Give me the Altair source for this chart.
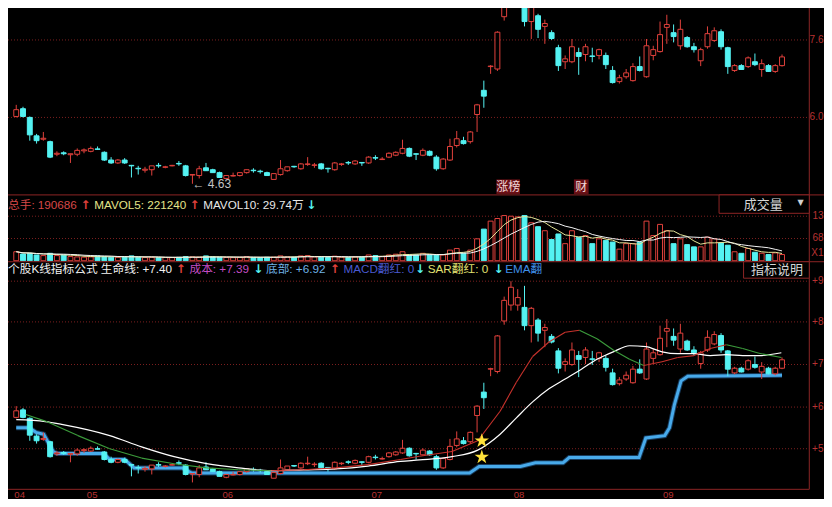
import altair as alt
import pandas as pd
import numpy as np

# ---------------- data ----------------
opens = [6.02,6.18,6.00,5.62,5.55,5.50,5.24,5.27,5.23,5.24,
         5.31,5.30,5.35,5.28,5.12,5.06,5.12,5.01,4.95,4.91,
         4.92,5.01,4.97,5.00,5.05,5.00,4.81,4.80,4.96,4.92,
         4.86,4.74,4.79,4.80,4.86,4.91,4.89,4.86,4.72,4.82,
         4.90,4.99,4.94,5.03,5.01,5.04,4.95,4.92,5.03,5.07,
         5.04,5.07,5.06,5.17,5.13,5.18,5.22,5.26,5.36,5.25,
         5.22,5.30,5.18,4.94,5.12,5.42,5.52,5.50,6.06,6.56,
         7.05,7.00,8.08,8.42,8.42,8.37,7.98,8.10,7.88,7.75,
         7.44,7.15,7.15,7.34,7.30,7.27,7.28,7.28,6.97,6.74,
         6.84,6.76,7.05,6.84,7.28,7.36,7.86,7.75,7.48,7.65,
         7.46,7.17,7.46,7.59,7.77,7.44,6.97,7.07,7.05,7.15,
         6.99,7.07,6.95,7.07]
highs = [6.26,6.22,6.02,5.66,5.70,5.52,5.30,5.30,5.25,5.36,
         5.36,5.40,5.40,5.30,5.18,5.14,5.16,5.02,5.00,4.98,
         5.00,5.06,5.00,5.02,5.10,5.02,4.83,5.00,5.06,4.94,
         4.88,4.80,4.86,4.86,4.92,4.95,4.92,4.88,4.84,5.12,
         4.98,5.00,5.06,5.18,5.06,5.06,4.96,5.08,5.06,5.10,
         5.12,5.08,5.20,5.22,5.18,5.28,5.30,5.54,5.38,5.26,
         5.36,5.32,5.22,5.16,5.56,5.72,5.60,5.72,6.28,6.76,
         7.08,7.78,8.60,8.93,8.76,8.83,8.38,8.14,8.02,7.80,
         7.50,7.28,7.62,7.44,7.52,7.44,7.42,7.34,7.06,6.88,
         7.00,7.12,7.26,7.62,7.48,7.98,8.12,7.92,8.02,7.68,
         7.54,7.44,7.88,7.86,7.82,7.46,7.10,7.10,7.26,7.32,
         7.20,7.10,7.10,7.30]
lows = [6.00,6.00,5.52,5.46,5.52,5.16,5.20,5.22,5.06,5.20,
        5.26,5.28,5.33,5.10,5.04,5.04,5.04,4.76,4.82,4.86,
        4.80,4.96,4.95,4.99,5.00,4.78,4.63,4.74,4.90,4.86,
        4.76,4.72,4.78,4.78,4.84,4.86,4.84,4.80,4.72,4.80,
        4.88,4.96,4.92,5.00,4.96,4.92,4.86,4.90,5.00,5.02,
        5.02,5.00,5.04,5.12,5.12,5.16,5.20,5.24,5.18,5.12,
        5.20,5.20,4.90,4.92,5.10,5.38,5.44,5.46,5.70,6.20,
        6.90,6.96,8.00,8.30,8.30,7.88,7.62,7.64,7.52,7.60,
        6.96,7.00,7.12,6.88,7.16,7.14,7.20,7.00,6.70,6.70,
        6.80,6.74,6.95,6.82,7.18,7.34,7.52,7.55,7.40,7.44,
        7.34,7.06,7.42,7.56,7.40,6.90,6.94,6.98,7.02,7.06,
        6.84,6.94,6.92,7.05]
closes = [6.16,6.02,5.64,5.52,5.57,5.18,5.26,5.25,5.25,5.32,
          5.33,5.36,5.34,5.12,5.06,5.12,5.06,5.00,4.94,4.93,
          5.00,5.00,4.98,5.01,5.04,4.80,4.82,4.94,4.90,4.86,
          4.76,4.80,4.80,4.86,4.92,4.90,4.88,4.80,4.84,4.94,
          4.98,4.98,5.04,5.04,5.02,4.94,4.94,5.06,5.04,5.06,
          5.10,5.06,5.18,5.16,5.14,5.26,5.28,5.36,5.20,5.24,
          5.32,5.22,4.94,5.14,5.40,5.56,5.46,5.70,6.26,6.44,
          7.06,7.76,8.52,8.80,8.58,7.98,8.35,7.82,7.94,7.63,
          7.07,7.21,7.46,7.26,7.46,7.26,7.40,7.09,6.72,6.82,
          6.92,7.05,6.97,7.48,7.40,7.71,7.92,7.67,7.82,7.46,
          7.40,7.40,7.73,7.79,7.46,7.05,7.07,6.99,7.23,7.09,
          7.11,6.95,7.07,7.25]
volumes = [276000,207000,227000,177000,158000,227000,158000,177000,128000,118000,
           110000,118000,148000,128000,110000,105000,118000,148000,110000,98000,
           105000,95000,100000,98000,105000,128000,118000,110000,148000,118000,
           110000,100000,95000,105000,128000,100000,95000,105000,110000,148000,
           118000,105000,148000,158000,118000,110000,100000,140000,110000,105000,
           118000,110000,177000,158000,128000,177000,200000,276000,177000,177000,
           227000,177000,177000,177000,325000,375000,227000,325000,670000,966000,
           1210000,1290000,1380000,1360000,1340000,1380000,1160000,1040000,917000,650000,
           818000,522000,917000,720000,769000,522000,670000,621000,571000,355000,
           522000,522000,571000,1210000,769000,1110000,917000,522000,670000,493000,
           424000,424000,720000,670000,542000,475000,275000,227000,375000,260000,
           230000,190000,240000,190686]

# indicator lines (sampled along the candle index axis)
life_x = [1.0,5.3,7.7,14.8,19.5,24.3,29.1,33.8,38.6,43.4,48.1,52.9,57.7,60.5,65.3,69.1,72.4,
          74.8,77.2,79.6,82.0,84.4,86.7,89.1,91.5,93.9,96.3,98.6,101.0,103.4,105.8,108.2,110.6,113.9]
life_v = [5.97,5.93,5.87,5.63,5.39,5.18,5.03,4.94,4.88,4.90,4.92,4.98,5.08,5.11,5.18,5.32,5.66,
          6.01,6.35,6.63,6.84,7.05,7.26,7.42,7.55,7.53,7.42,7.38,7.38,7.34,7.36,7.34,7.34,7.40]
cost_x = [2.4,5.3,10.1,14.8,19.5,24.3,29.1,33.8,38.6,43.4,48.1,52.9,57.7,60.5,65.3,69.1,72.4,
          74.8,77.2,79.6,82.0,84.1,86.7,89.1,91.5,93.6,96.3,98.6,101.0,103.4,105.8,108.2,110.6,113.9]
cost_v = [6.08,5.94,5.63,5.35,5.15,5.03,4.94,4.90,4.88,4.90,4.94,5.01,5.12,5.19,5.29,5.52,6.15,
          6.77,7.32,7.63,7.84,7.88,7.70,7.46,7.26,7.13,7.21,7.30,7.34,7.49,7.57,7.49,7.39,7.30]
base_x = [1.0,2.9,3.9,5.05,6.5,7.0,13.9,14.8,17.0,18.4,25.5,26.9,67.9,69.3,75.4,77.6,81.7,82.6,
          92.9,93.9,96.7,97.4,98.1,99.1,100.1,114.0]
base_v = [5.80,5.80,5.70,5.66,5.28,5.25,5.25,5.12,5.12,4.94,4.94,4.83,4.83,4.97,4.97,5.05,5.05,5.16,
          5.16,5.58,5.63,5.80,6.28,6.80,6.90,6.92]
star_x = [69.7, 69.7]
star_v = [5.52, 5.17]

month_labels = ["04", "05", "06", "07", "08", "09"]
month_pos = [1.5, 12.2, 32.2, 54.2, 75.2, 97.2]

top_ticks = [7.6, 6.0]
top_tick_labels = ["7.6", "6.0"]
vol_ticks = [1360000, 680000]
vol_tick_labels = ["13", "68"]
ind_ticks = [8.93, 8.06, 7.15, 6.24, 5.35]
ind_tick_labels = ["+9", "+8", "+7", "+6", "+5"]

# ---------------- layout ----------------
W, H = 816, 491
SX, SY = W / 832.0, H / 507.0
def px(x): return x * SX
def py(y): return y * SY

RED = "#e0413c"
CYAN = "#54f2f2"
GRID = "#7c1f1f"
FRAME = "#8c2525"
AXTXT = "#b83232"
FONT = "Liberation Sans, Arial, Noto Sans CJK SC, sans-serif"
BOTTOM = 497

n = len(opens)
df = pd.DataFrame(dict(i=list(range(1, n + 1)), o=opens, h=highs, l=lows, c=closes, v=volumes))
up = df.c >= df.o
df["stroke"] = np.where(up, RED, CYAN)
df["fill"] = np.where(up, "#000000", CYAN)

xs = alt.Scale(domain=[1, n], range=[px(3.3), px(794.3)], nice=False, zero=False)
def X(f):
    return alt.X(f, type="quantitative", scale=xs, axis=None)
def ysc(dom, rng):
    return alt.Scale(domain=dom, range=[py(rng[0]), py(rng[1])], nice=False, zero=False)

top_s = ysc([6.0, 7.6], [113, 33])
vol_s = ysc([0, 1360000], [261, 215])
ind_s = ysc([5.0, 9.0], [472.0, 278.7])

one = pd.DataFrame({"a": [0]})
layers = []

def hline(y, x0=0, x1=W, color=FRAME, dash=None):
    kw = dict(color=color, strokeWidth=1)
    if dash:
        kw["strokeDash"] = dash
    return alt.Chart(one).mark_rule(**kw).encode(
        x=alt.value(x0), x2=alt.value(x1), y=alt.value(y))

def grid(ticks, scale):
    g = pd.DataFrame({"t": ticks})
    return alt.Chart(g).mark_rule(color=GRID, strokeWidth=1, strokeDash=[1, 2]).encode(
        y=alt.Y("t:Q", scale=scale, axis=None), x=alt.value(0), x2=alt.value(px(817)))

layers += [grid(top_ticks, top_s), grid(vol_ticks, vol_s), grid(ind_ticks, ind_s)]

def candles(scale):
    base = alt.Chart(df)
    wick = base.mark_rule(strokeWidth=1).encode(
        x=X("i"), y=alt.Y("l:Q", scale=scale, axis=None), y2="h:Q",
        color=alt.Color("stroke:N", scale=None))
    body = base.mark_bar(size=px(5), strokeWidth=1).encode(
        x=X("i"), y=alt.Y("o:Q", scale=scale, axis=None), y2="c:Q",
        fill=alt.Fill("fill:N", scale=None), stroke=alt.Stroke("stroke:N", scale=None))
    return [wick, body]

# top panel
layers += candles(top_s)
low_df = pd.DataFrame({"i": [27], "p": [4.63], "t": ["\u2190 4.63"]})
layers.append(alt.Chart(low_df).mark_text(align="left", baseline="middle", dx=0, fontSize=12,
                                          font=FONT, color="#c4c4c4").encode(
    x=X("i"), y=alt.Y("p:Q", scale=top_s, axis=None), text="t:N"))

# event markers
for (x0, x1, t) in [(498, 522, "涨榜"), (577, 592, "财")]:
    layers.append(alt.Chart(one).mark_rect(color="#6a1016").encode(
        x=alt.value(px(x0)), x2=alt.value(px(x1)), y=alt.value(py(177)), y2=alt.value(py(192))))
    layers.append(alt.Chart(one).mark_text(text=t, fontSize=12, font=FONT, color="#f2d6d6",
                                           align="center", baseline="middle").encode(
        x=alt.value(px((x0 + x1) / 2)), y=alt.value(py(185))))

# volume panel
vb = alt.Chart(df).mark_bar(size=px(5), strokeWidth=1).encode(
    x=X("i"), y=alt.Y("v:Q", scale=vol_s, axis=None), y2=alt.datum(0),
    fill=alt.Fill("fill:N", scale=None), stroke=alt.Stroke("stroke:N", scale=None))
layers.append(vb)
ma = alt.Chart(df).transform_window(
    ma5="mean(v)", frame=[-4, 0], sort=[alt.SortField("i")]).transform_window(
    ma10="mean(v)", frame=[-9, 0], sort=[alt.SortField("i")])
layers.append(ma.mark_line(color="#e6e69a", strokeWidth=1).encode(
    x=X("i"), y=alt.Y("ma5:Q", scale=vol_s, axis=None)))
layers.append(ma.mark_line(color="#f4f4f4", strokeWidth=1).encode(
    x=X("i"), y=alt.Y("ma10:Q", scale=vol_s, axis=None)))

# indicator panel
base_df = pd.DataFrame({"x": base_x, "v": base_v})
layers.append(alt.Chart(base_df).mark_line(color="#173c5e", strokeWidth=5).encode(
    x=X("x"), y=alt.Y("v:Q", scale=ind_s, axis=None)))
layers.append(alt.Chart(base_df).mark_line(color="#48aaea", strokeWidth=3).encode(
    x=X("x"), y=alt.Y("v:Q", scale=ind_s, axis=None)))
layers += candles(ind_s)
life_df = pd.DataFrame({"x": life_x, "v": life_v})
layers.append(alt.Chart(life_df).mark_line(color="#ffffff", strokeWidth=1.2, interpolate="monotone").encode(
    x=X("x"), y=alt.Y("v:Q", scale=ind_s, axis=None)))
seg = pd.DataFrame({"x0": cost_x[:-1], "x1": cost_x[1:], "y0": cost_v[:-1], "y1": cost_v[1:]})
seg["col"] = np.where(seg.y1 >= seg.y0, "#c8322c", "#3c9c3c")
layers.append(alt.Chart(seg).mark_rule(strokeWidth=1.1).encode(
    x=X("x0"), x2="x1", y=alt.Y("y0:Q", scale=ind_s, axis=None), y2="y1",
    color=alt.Color("col:N", scale=None)))
STAR = ("M0,-1L0.2245,-0.309L0.9511,-0.309L0.3633,0.118L0.5878,0.809L0,0.382L-0.5878,0.809"
        "L-0.3633,0.118L-0.9511,-0.309L-0.2245,-0.309Z")
star_df = pd.DataFrame({"x": star_x, "v": star_v})
layers.append(alt.Chart(star_df).mark_point(shape=STAR, filled=True, color="#ffe23a", size=230, opacity=1).encode(
    x=X("x"), y=alt.Y("v:Q", scale=ind_s, axis=None)))

# frame lines
layers.append(hline(py(193), 0, W))
layers.append(hline(py(262), 0, W))
layers.append(hline(py(BOTTOM), 0, px(817)))
layers.append(alt.Chart(one).mark_rule(color=FRAME, strokeWidth=1).encode(
    x=alt.value(px(817)), y=alt.value(0), y2=alt.value(py(BOTTOM))))

# boxes
for (x0, x1, y0, y1, t, cx) in [(725, 817, 193, 212, "成交量", 770), (750, 817, 262, 279, "指标说明", 784)]:
    layers.append(alt.Chart(one).mark_rect(fill="#000000", stroke=FRAME, strokeWidth=1).encode(
        x=alt.value(px(x0)), x2=alt.value(px(x1)), y=alt.value(py(y0)), y2=alt.value(py(y1))))
    layers.append(alt.Chart(one).mark_text(text=t, fontSize=13, font=FONT, color="#d6d6d6",
                                           align="center", baseline="middle").encode(
        x=alt.value(px(cx)), y=alt.value(py((y0 + y1) / 2 + 0.5))))
layers.append(alt.Chart(one).mark_text(text="\u25bc", fontSize=8, font="DejaVu Sans", color="#d0d0d0",
                                       align="center", baseline="middle").encode(
    x=alt.value(px(808)), y=alt.value(py(201))))

# right side labels (kept inside the chart edge)
RX = W - 0.5
def rlabels(ticks, labels, scale):
    d = pd.DataFrame({"t": ticks, "s": labels})
    return alt.Chart(d).mark_text(align="right", baseline="middle", fontSize=10, font=FONT, color=AXTXT).encode(
        x=alt.value(RX), y=alt.Y("t:Q", scale=scale, axis=None), text="s:N")
layers += [rlabels(top_ticks, top_tick_labels, top_s), rlabels(vol_ticks, vol_tick_labels, vol_s),
           rlabels(ind_ticks, ind_tick_labels, ind_s)]
layers.append(alt.Chart(one).mark_text(text="X1", align="right", baseline="middle", fontSize=10,
                                       font=FONT, color=AXTXT).encode(
    x=alt.value(RX), y=alt.value(py(253))))

# month labels
mdf = pd.DataFrame({"p": month_pos, "m": month_labels})
layers.append(alt.Chart(mdf).mark_text(align="center", baseline="top", fontSize=9.5, font=FONT, color=AXTXT).encode(
    x=X("p"), y=alt.value(py(BOTTOM) + 0.5), text="m:N"))

# header texts
vol_head = [("总手: 190686", 0, "#d84848"), ("\u2191", 74, RED), ("MAVOL5: 221240", 88, "#e4e48a"),
            ("\u2191", 185, RED), ("MAVOL10: 29.74万", 199, "#e8e8e8"), ("\u2193", 304, CYAN)]
ind_head = [("个股K线指标公式 生命线: +7.40", 0, "#f2f2f2"), ("\u2191", 171, RED),
            ("成本: +7.39", 185, "#c44cc4"), ("\u2193", 250, CYAN),
            ("底部: +6.92", 263, "#6fb2e6"), ("\u2191", 328, RED),
            ("MACD翻红: 0", 342, "#4a5ad0"), ("\u2193", 415, CYAN),
            ("SAR翻红: 0", 428, "#e0e070"), ("\u2193", 495, CYAN),
            ("EMA翻", 507, "#3f8fe8")]
for items, yy in [(vol_head, 203), (ind_head, 270)]:
    for (t, x0, col) in items:
        arrow = t in ("\u2191", "\u2193")
        layers.append(alt.Chart(one).mark_text(
            text=t, align="left", baseline="middle", fontSize=12 if arrow else 11.7,
            fontWeight="bold" if arrow else "normal",
            font="DejaVu Sans" if arrow else FONT, color=col).encode(
            x=alt.value(px(x0)), y=alt.value(py(yy))))

chart = alt.layer(*layers).resolve_scale(y="independent").properties(
    width=W, height=H, background="#000000", padding=0,
    autosize=alt.AutoSizeParams(type="none")
).configure_view(strokeWidth=0)

chart.save("out.html", embed_options={"renderer": "svg", "actions": False})
